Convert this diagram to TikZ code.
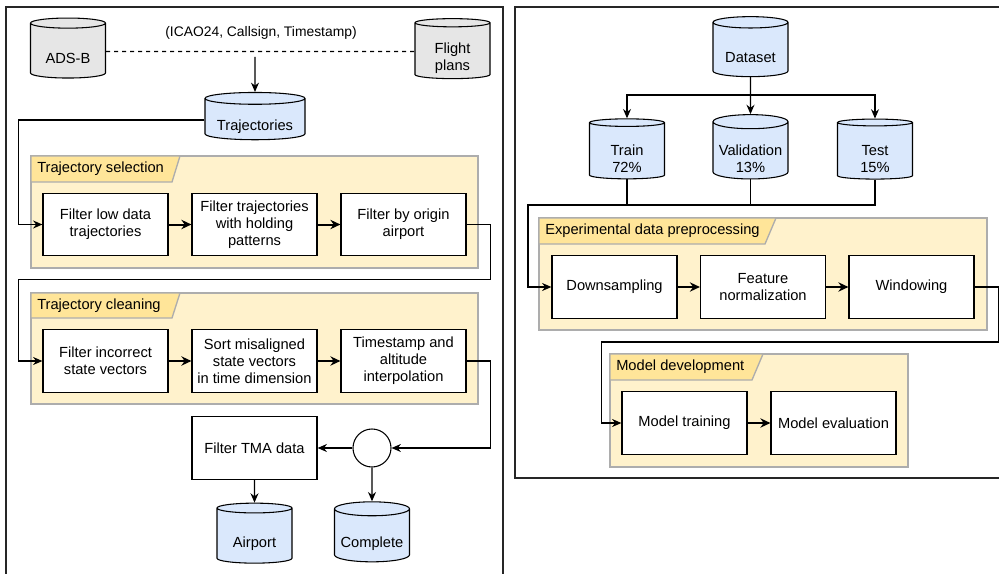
\documentclass[tikz,border=0pt]{standalone}
\usepackage{fontspec}
\setmainfont{Liberation Sans}
\usetikzlibrary{shapes.geometric,arrows.meta}
\definecolor{dbblue}{HTML}{DAE8FC}
\definecolor{dbgray}{HTML}{E6E6E6}
\definecolor{grpfill}{HTML}{FFF2CC}
\definecolor{grphead}{HTML}{FFE599}
\definecolor{grpline}{HTML}{ADADAD}
\newcommand{\boxtext}{\fontsize{11}{12.8}\selectfont}
\tikzset{
  wire/.style={line width=0.8pt},
  link/.style={wire, -{Stealth[length=7pt,width=6pt]}},
  flow/.style={line width=1.5pt, -{Stealth[length=7.5pt,width=7pt]}},
  proc/.style={draw, line width=0.9pt, fill=white, minimum width=93.75pt,
    minimum height=47pt, align=center, inner sep=2pt},
  % text goes a bit below the middle, under the top cap (strut = box height)
  store/.style={cylinder, shape border rotate=90, aspect=0.213, draw,
    line width=0.8pt, cylinder uses custom fill, cylinder body fill=dbblue,
    cylinder end fill=dbblue, minimum width=56.25pt, minimum height=45pt,
    align=center, inner sep=1pt,
    execute at begin node={\rule{0pt}{#1}}},
  store/.default=18.5pt,
  source/.style={store=#1, cylinder body fill=dbgray, cylinder end fill=dbgray},
  source/.default=18.5pt,
  group/.style={draw=grpline, line width=1pt, fill=grpfill},
  grouptab/.style={draw=grpline, line width=1pt, fill=grphead},
  grouplabel/.style={anchor=west, inner sep=0},
  panel/.style={draw=black!85, line width=0.8pt}
}
\begin{document}
\begin{tikzpicture}[x=0.75pt,y=-0.75pt,font=\boxtext]
\useasboundingbox (0,0) rectangle (999,574);
% panels
\draw[panel] (6,7) rectangle (503,600);
\draw[panel] (515,7) rectangle (1010,478);
% groups & tabs
\draw[group] (31,156) rectangle (478,268);
\draw[grouptab] (31,156) -- (180,156) -- (172,182) -- (31,182) -- cycle;
\node[grouplabel] (selhead) at (37,169) {Trajectory selection};
\draw[group] (31,293) rectangle (478,404);
\draw[grouptab] (31,293) -- (180,293) -- (172,318) -- (31,318) -- cycle;
\node[grouplabel] (cleanhead) at (37,305.5) {Trajectory cleaning};
\draw[group] (539,218) rectangle (987,330);
\draw[grouptab] (539,218) -- (776,218) -- (765,244) -- (539,244) -- cycle;
\node[grouplabel] (prephead) at (545,231) {Experimental data preprocessing};
\draw[group] (610,354) rectangle (908,467);
\draw[grouptab] (610,354) -- (763,354) -- (752,380) -- (610,380) -- cycle;
\node[grouplabel] (devhead) at (616,367) {Model development};
% sources
\node[source] (adsb) at (68,51.5) {ADS-B};
\node[source=31.3pt] (fplan) at (452.5,51.5) {Flight\\plans};
\draw[wire, dash pattern=on 3pt off 3pt] (adsb) -- (fplan);
\node[font=\fontsize{10.4}{12}\selectfont] (keys) at (261,33) {(ICAO24, Callsign, Timestamp)};
\coordinate (joined) at (255,57);
\node[store, aspect=0.15, minimum width=75pt, minimum height=34.5pt] (traj) at (255,120) {Trajectories};
\draw[link] (joined) -- (traj);
% trajectory selection
\node[proc] (lowdata) at (105.5,224.5) {Filter low data\\trajectories};
\node[proc] (holding) at (254.5,224.5) {Filter trajectories\\with holding\\patterns};
\node[proc] (origin) at (403.5,224.5) {Filter by origin\\airport};
\draw[flow] (lowdata) -- (holding);
\draw[flow] (holding) -- (origin);
\draw[link] (traj.west) -| ([xshift=-18pt]lowdata.west) -- (lowdata.west);
% trajectory cleaning
\node[proc] (incorrect) at (105.5,361) {Filter incorrect\\state vectors};
\node[proc] (sorting) at (254.5,361) {Sort misaligned\\state vectors\\in time dimension};
\node[proc] (interp) at (403.5,361) {Timestamp and\\altitude\\interpolation};
\draw[flow] (incorrect) -- (sorting);
\draw[flow] (sorting) -- (interp);
\draw[link] (origin.east) -- ++(24,0) -- ++(0,55) -| ([xshift=-18pt]incorrect.west) -- (incorrect.west);
% split into airport / complete
\node[circle, draw, line width=0.8pt, minimum size=28.5pt, inner sep=0] (split) at (372,448) {};
\node[proc] (tma) at (254.5,448) {Filter TMA data};
\draw[link] (interp.east) -- ++(24,0) |- (split.east);
\draw[link] (split) -- (tma);
\node[store] (airport) at (254.5,536.5) {Airport};
\node[store] (complete) at (372,536.5) {Complete};
\draw[link] (tma) -- (airport);
\draw[link] (split) -- (complete);
% dataset split
\node[store] (dataset) at (750.5,50.5) {Dataset};
\node[store=31.3pt] (train) at (627,151.5) {Train\\72\%};
\node[store=31.3pt] (valid) at (750.5,151.5) {Validation\\13\%};
\node[store=31.3pt] (test) at (875,151.5) {Test\\15\%};
\coordinate (fork) at (750.5,95);
\coordinate (gather) at (528,205);
\draw[link] (dataset) -- (valid);
\draw[link] (fork) -| (train);
\draw[link] (fork) -| (test);
% preprocessing
\node[proc] (downs) at (614.5,287) {Downsampling};
\node[proc] (norm) at (763,287) {Feature\\normalization};
\node[proc] (window) at (911.5,287) {Windowing};
\draw[wire] (train) -- (train |- gather);
\draw[wire] (valid) -- (valid |- gather);
\draw[link] (test) |- (gather) |- (downs);
\draw[flow] (downs) -- (norm);
\draw[flow] (norm) -- (window);
% model
\node[proc] (training) at (684.5,423) {Model training};
\node[proc] (evaluation) at (833.5,423) {Model evaluation};
\draw[flow] (training) -- (evaluation);
\draw[link] (window.east) -- ++(24,0) -- ++(0,55) -| ([xshift=-15pt]training.west) -- (training.west);
\end{tikzpicture}
\end{document}
